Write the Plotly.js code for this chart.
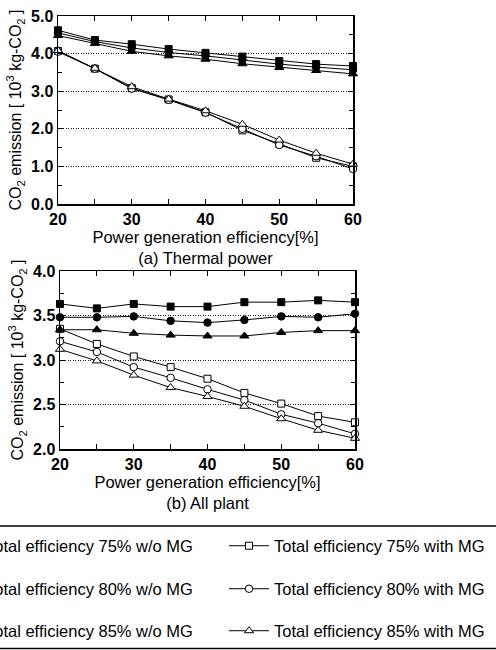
<!DOCTYPE html>
<html>
<head>
<meta charset="utf-8">
<script src="https://cdn.plot.ly/plotly-3.0.1.min.js"></script>
<style>html,body{margin:0;padding:0;background:#fff;}#chart{width:496px;height:650px;}</style>
</head>
<body>
<div id="chart"></div>
<script>
// Power generation efficiency [%]
const effX = [20, 25, 30, 35, 40, 45, 50, 55, 60];

// (a) Thermal power, CO2 emission [10^3 kg-CO2]
const th75wo = [4.62, 4.36, 4.25, 4.12, 4.02, 3.92, 3.80, 3.72, 3.67];
const th80wo = [4.55, 4.32, 4.15, 4.03, 3.94, 3.83, 3.72, 3.64, 3.57];
const th85wo = [4.48, 4.27, 4.06, 3.94, 3.85, 3.73, 3.63, 3.55, 3.46];
const th75w  = [4.07, 3.60, 3.08, 2.78, 2.44, 1.96, 1.60, 1.23, 1.00];
const th80w  = [4.05, 3.60, 3.07, 2.77, 2.43, 2.00, 1.57, 1.27, 0.93];
const th85w  = [4.08, 3.61, 3.12, 2.79, 2.48, 2.12, 1.70, 1.35, 1.06];

// (b) All plant, CO2 emission [10^3 kg-CO2]
const ap75wo = [3.63, 3.58, 3.63, 3.60, 3.60, 3.65, 3.65, 3.67, 3.65];
const ap80wo = [3.48, 3.48, 3.49, 3.44, 3.42, 3.45, 3.49, 3.48, 3.52];
const ap85wo = [3.34, 3.34, 3.30, 3.28, 3.27, 3.27, 3.31, 3.33, 3.33];
const ap75w  = [3.35, 3.18, 3.04, 2.92, 2.79, 2.63, 2.51, 2.37, 2.30];
const ap80w  = [3.21, 3.09, 2.92, 2.80, 2.67, 2.55, 2.39, 2.29, 2.17];
const ap85w  = [3.12, 2.99, 2.83, 2.69, 2.59, 2.48, 2.34, 2.21, 2.12];

const seriesNames = [
  'Total efficiency 75% w/o MG', 'Total efficiency 75% with MG',
  'Total efficiency 80% w/o MG', 'Total efficiency 80% with MG',
  'Total efficiency 85% w/o MG', 'Total efficiency 85% with MG'
];

const styles = [
  {symbol: 'square', fill: 'black', size: 7},
  {symbol: 'square', fill: 'white', size: 7},
  {symbol: 'circle', fill: 'black', size: 7.5},
  {symbol: 'circle', fill: 'white', size: 7.5},
  {symbol: 'triangle-up', fill: 'black', size: 8},
  {symbol: 'triangle-up', fill: 'white', size: 8}
];
const legendIds = ['legend', 'legend2', 'legend3', 'legend4', 'legend5', 'legend6'];

const thermal = [th75wo, th75w, th80wo, th80w, th85wo, th85w];
const allPlant = [ap75wo, ap75w, ap80wo, ap80w, ap85wo, ap85w];

function mk(y, i, xa, ya, showLegend) {
  const s = styles[i];
  return {
    x: effX, y: y, type: 'scatter', mode: 'lines+markers',
    name: seriesNames[i], xaxis: xa, yaxis: ya,
    legend: legendIds[i], showlegend: showLegend, cliponaxis: false,
    line: {color: 'black', width: 1},
    marker: {symbol: s.symbol, size: s.size, color: s.fill, line: {color: 'black', width: 1}}
  };
}

const traces = [];
thermal.forEach((y, i) => traces.push(mk(y, i, 'x', 'y', true)));
allPlant.forEach((y, i) => traces.push(mk(y, i, 'x2', 'y2', false)));

const W = 496, H = 650;
const FAM = 'Liberation Sans, Arial, Helvetica, sans-serif';
const tickFont = {family: FAM, size: 16, color: 'black', weight: 'bold'};
const titleFont = {family: FAM, size: 16.5, color: 'black'};
const yTitleFont = {family: FAM, size: 16, color: 'black'};
const yTitle = 'CO<sub>2</sub> emission [ 10<sup>3</sup> kg-CO<sub>2</sub> ]';

function xAxis(dom, anchor, caption) {
  return {
    domain: dom, anchor: anchor, range: [20, 60], dtick: 10, tick0: 20,
    ticks: 'inside', ticklen: 5, tickwidth: 1, tickcolor: 'black',
    minor: {dtick: 5, ticks: 'inside', ticklen: 5, tickcolor: 'black', showgrid: false},
    showline: true, linecolor: 'black', linewidth: 1.5, mirror: 'ticks',
    showgrid: false, zeroline: false, tickfont: tickFont,
    title: {text: 'Power generation efficiency[%]<br>' + caption, font: titleFont, standoff: 3}
  };
}
function yAxis(dom, anchor, range, dtick, minorDtick) {
  return {
    domain: dom, anchor: anchor, range: range, dtick: dtick, tickformat: '.1f',
    ticks: 'inside', ticklen: 5, tickwidth: 1, tickcolor: 'black',
    minor: {dtick: minorDtick, ticks: 'inside', ticklen: 4, tickcolor: 'black', showgrid: false},
    showline: true, linecolor: 'black', linewidth: 1.5, mirror: 'ticks',
    showgrid: true, gridcolor: '#222', griddash: '1px,1.5px', gridwidth: 1,
    zeroline: false, tickfont: tickFont, ticklabelstandoff: 0,
    title: {text: yTitle, font: yTitleFont, standoff: 5}
  };
}

function legendCfg(xPix, yPix) {
  return {
    orientation: 'v', x: xPix / W, xanchor: 'left', y: 1 - yPix / H, yanchor: 'middle',
    itemwidth: 40, bgcolor: 'rgba(0,0,0,0)', borderwidth: 0,
    itemclick: false, itemdoubleclick: false,
    font: {family: FAM, size: 16.5, color: 'black'}
  };
}

const rowsY = [546, 589, 631];
const colX = [-64, 224];

const layout = {
  width: W, height: H, margin: {l: 0, r: 0, t: 0, b: 0, autoexpand: false},
  paper_bgcolor: 'white', plot_bgcolor: 'white',
  xaxis: xAxis([58 / W, 353 / W], 'y', '(a) Thermal power'),
  yaxis: yAxis([1 - 204 / H, 1 - 16 / H], 'x', [0, 5], 1, 0.5),
  xaxis2: xAxis([60 / W, 355 / W], 'y2', '(b) All plant'),
  yaxis2: yAxis([1 - 449 / H, 1 - 271 / H], 'x2', [2, 4], 0.5, 0.25),
  shapes: [
    {type: 'line', xref: 'paper', yref: 'paper', x0: 0, x1: 1, y0: 1 - 526 / H, y1: 1 - 526 / H, line: {color: 'black', width: 1.5}},
    {type: 'line', xref: 'paper', yref: 'paper', x0: 0, x1: 1, y0: 1 - 648.5 / H, y1: 1 - 648.5 / H, line: {color: 'black', width: 1.5}}
  ],
  showlegend: true
};
legendIds.forEach((id, i) => {
  layout[id] = legendCfg(colX[i % 2], rowsY[Math.floor(i / 2)]);
});

Plotly.newPlot('chart', traces, layout, {staticPlot: true, displayModeBar: false});
</script>
</body>
</html>
